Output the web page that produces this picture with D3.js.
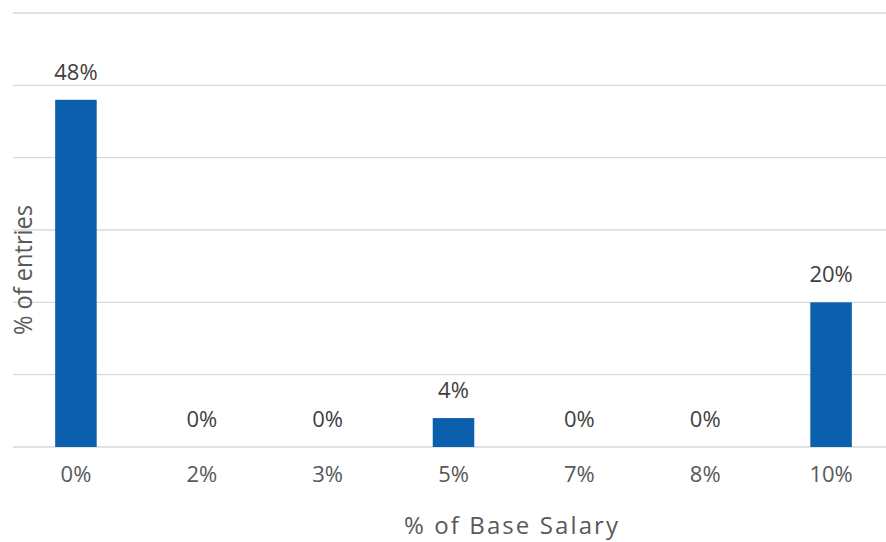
<!DOCTYPE html>
<html>
<head>
<meta charset="utf-8">
<script src="https://cdn.jsdelivr.net/npm/d3@7"></script>
<style>
  body { margin: 0; background: #fff; }
  text { font-family: "Open Sans", sans-serif; }
</style>
</head>
<body>
<div id="canvas"></div>
<script>
const categories = ["0%", "2%", "3%", "5%", "7%", "8%", "10%"];
const values = [48, 0, 0, 4, 0, 0, 20];
const gridTicks = [0, 10, 20, 30, 40, 50, 60];

const width = 886;
const height = 542;
const margin = { top: 13, left: 13, bottom: 95, right: -8 };
const iwidth = width - margin.left - margin.right;
const iheight = height - margin.top - margin.bottom;

const data = categories.map((c, i) => ({ name: c, value: values[i] }));

const svg = d3.select("#canvas").append("svg")
    .attr("width", width)
    .attr("height", height);

const g = svg.append("g").attr("transform", `translate(${margin.left},${margin.top})`);

const x = d3.scaleBand()
    .domain(categories)
    .range([0, iwidth])
    .paddingInner(0.67)
    .paddingOuter(0.335);
const y = d3.scaleLinear()
    .domain([0, 60])
    .range([iheight, 0]);

// gridlines
g.append("g")
    .selectAll("line")
    .data(gridTicks)
    .enter().append("line")
    .attr("x1", 0)
    .attr("x2", iwidth)
    .attr("y1", d => y(d))
    .attr("y2", d => y(d))
    .style("stroke", "#d9d9d9")
    .style("stroke-width", 1.4);

// bars
g.selectAll("rect.bar")
    .data(data)
    .enter().append("rect")
    .attr("class", "bar")
    .style("fill", "#0c5fad")
    .attr("x", d => x(d.name))
    .attr("y", d => y(d.value))
    .attr("width", x.bandwidth())
    .attr("height", d => iheight - y(d.value));

// data labels
g.selectAll("text.lbl")
    .data(data)
    .enter().append("text")
    .attr("class", "lbl")
    .attr("x", d => x(d.name) + x.bandwidth() / 2)
    .attr("y", d => y(d.value) - 20)
    .attr("text-anchor", "middle")
    .style("font-size", "22px")
    .style("fill", "#404040")
    .text(d => d.value + "%");

// x axis labels
const xAxis = g.append("g")
    .attr("transform", `translate(0, ${iheight})`)
    .call(d3.axisBottom(x).tickSize(0).tickPadding(19));
xAxis.select(".domain").remove();
xAxis.selectAll("text")
    .style("font-size", "22px")
    .style("fill", "#595959")
    .style("font-family", "'Open Sans', sans-serif");

// axis titles
svg.append("text")
    .attr("x", 511)
    .attr("y", 534)
    .attr("text-anchor", "middle")
    .attr("textLength", 214)
    .attr("lengthAdjust", "spacing")
    .style("font-size", "24px")
    .style("fill", "#595959")
    .text("% of Base Salary");

svg.append("text")
    .attr("transform", "translate(32, 270) rotate(-90)")
    .attr("text-anchor", "middle")
    .attr("textLength", 130)
    .attr("lengthAdjust", "spacingAndGlyphs")
    .style("font-size", "25px")
    .style("fill", "#595959")
    .text("% of entries");
</script>
</body>
</html>
